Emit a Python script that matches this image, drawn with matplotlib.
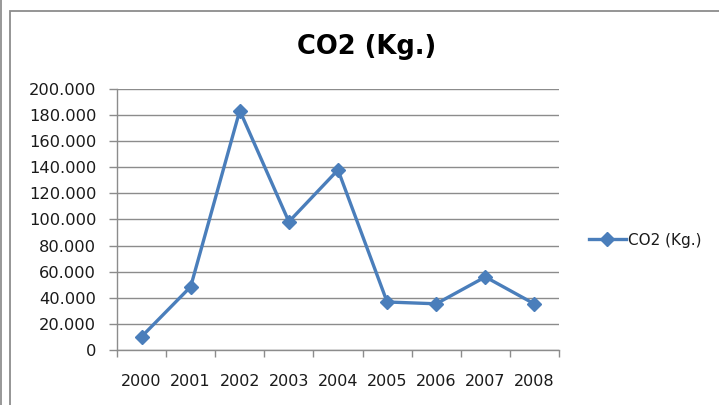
import matplotlib
matplotlib.use("Agg")
import matplotlib.pyplot as plt
from matplotlib.patches import Rectangle
from matplotlib.ticker import FuncFormatter

years = ["2000", "2001", "2002", "2003", "2004", "2005", "2006", "2007", "2008"]
co2 = [10200, 48500, 183500, 98300, 138000, 36800, 35400, 56000, 35300]
series_name = "CO2 (Kg.)"
yticks = [0, 20000, 40000, 60000, 80000, 100000, 120000, 140000, 160000, 180000, 200000]

plt.rcParams['font.family'] = ['DejaVu Sans']

W, H = 719, 405
fig = plt.figure(figsize=(W / 100, H / 100), dpi=100)
fig.patch.set_facecolor('white')

# outer chart frame
fig.add_artist(Rectangle((9.5 / W, -0.1), 1.2, (H - 11.5) / H + 0.1, transform=fig.transFigure,
                         fill=False, edgecolor='#8c8c8c', linewidth=1.3))
fig.add_artist(Rectangle((0, -0.1), 1.5 / W, 1.2, transform=fig.transFigure,
                         fill=True, facecolor='#9a9a9a', edgecolor='none'))

x0, x1, ytop, ybot = 117, 559, 89, 350
ax = fig.add_axes([x0 / W, 1 - ybot / H, (x1 - x0) / W, (ybot - ytop) / H])
ax.set_facecolor('none')

xs = list(range(len(years)))
line, = ax.plot(xs, co2, color='#4a7ebb', linewidth=2.4, marker='D', markersize=7.5,
                markerfacecolor='#4a7ebb', markeredgecolor='#4a7ebb', label=series_name, zorder=3)

ax.set_xlim(-0.5, len(years) - 0.5)
ax.set_ylim(0, 200000)
ax.set_yticks(yticks)
ax.yaxis.set_major_formatter(FuncFormatter(lambda v, p: "0" if v == 0 else f"{int(v):,}".replace(",", ".")))
ax.grid(axis='y', color='#8c8c8c', linewidth=1.0)
ax.set_axisbelow(True)

ax.set_xticks(xs)
ax.set_xticklabels(years)
ax.set_xticks([i - 0.5 for i in range(len(years) + 1)], minor=True)
ax.tick_params(axis='x', which='major', length=0, pad=17, labelsize=11.5, colors='#1a1a1a')
ax.tick_params(axis='x', which='minor', length=5, width=1, color='#8c8c8c', direction='out')
ax.tick_params(axis='y', length=6, width=1, color='#8c8c8c', labelsize=11.7, pad=9, labelcolor='#1a1a1a')

for s in ['top', 'right']:
    ax.spines[s].set_visible(False)
for s in ['left', 'bottom']:
    ax.spines[s].set_color('#8c8c8c')
    ax.spines[s].set_linewidth(1.0)

fig.text(367 / W, 1 - 47 / H, "CO2 (Kg.)", ha='center', va='center', fontsize=18.5, fontweight='bold')

leg = fig.legend(handles=[line], loc='center left', bbox_to_anchor=(589 / W, 1 - 240 / H),
                 frameon=False, fontsize=11, handlelength=2.4, handletextpad=0.15,
                 borderpad=0, borderaxespad=0, labelcolor='#1a1a1a')

fig.savefig("out.png", dpi=100)
